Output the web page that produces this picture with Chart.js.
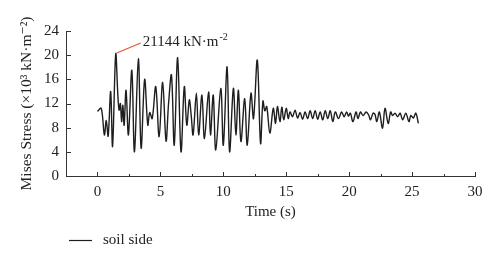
<!DOCTYPE html>
<html>
<head>
<meta charset="utf-8">
<script src="https://cdn.jsdelivr.net/npm/chart.js@4.4.0/dist/chart.umd.min.js"></script>
<style>
    html, body { margin: 0; padding: 0; background: #fff; }
    #wrap { width: 500px; height: 264px; }
</style>
</head>
<body>
<div id="wrap"><canvas id="myChart"></canvas></div>
<script>
// time (s) and Mises stress (x10^3 kN/m2)
const times = [
    0, 0.3, 0.55, 0.7, 0.85, 1.05, 1.2, 1.45, 1.62, 1.72, 1.82, 1.92, 2.02, 2.12, 2.27, 2.46,
    2.73, 2.94, 3.25, 3.47, 3.75, 4.0, 4.15, 4.35, 4.63, 4.9, 5.18, 5.45, 5.65, 5.88, 6.1, 6.37,
    6.64, 6.9, 7.1, 7.3, 7.45, 7.6, 7.86, 8.04, 8.3, 8.5, 8.83, 8.98, 9.2, 9.4, 9.8, 10.0,
    10.3, 10.5, 10.8, 11.0, 11.2, 11.4, 11.7, 11.9, 12.2, 12.4, 12.7, 12.96, 13.15, 13.3, 13.45, 13.7,
    13.97, 14.15, 14.3, 14.5, 14.65, 14.8, 15.0, 15.16, 15.3, 15.5, 15.7, 15.9, 16.1, 16.3, 16.5, 16.7,
    16.9, 17.1, 17.3, 17.5, 17.7, 17.9, 18.1, 18.3, 18.5, 18.7, 18.9, 19.15, 19.4, 19.6, 19.8, 19.95,
    20.1, 20.3, 20.55, 20.7, 20.9, 21.1, 21.35, 21.55, 21.7, 21.9, 22.05, 22.2, 22.4, 22.65, 22.85, 23.1,
    23.3, 23.45, 23.65, 23.85, 24.05, 24.25, 24.5, 24.75, 24.9, 25.1, 25.3, 25.5
];
const soilSide = [
    10.7, 11.2, 6.8, 9.2, 6.6, 14.0, 4.9, 20.2, 13.4, 10.9, 12.0, 9.0, 11.7, 8.4, 14.2, 6.8,
    17.5, 4.0, 19.4, 4.6, 16.0, 8.4, 10.5, 9.5, 14.8, 6.5, 15.5, 5.8, 12.0, 16.7, 5.1, 19.6,
    4.0, 14.8, 8.4, 12.6, 10.0, 6.8, 13.7, 6.8, 13.4, 6.2, 13.9, 6.8, 13.4, 4.3, 14.5, 5.1,
    18.1, 4.0, 14.5, 6.8, 14.2, 5.7, 12.8, 5.1, 13.7, 9.5, 19.2, 5.4, 12.4, 10.8, 11.5, 7.1,
    11.2, 8.7, 11.5, 9.0, 11.4, 9.3, 11.2, 9.5, 10.6, 9.8, 10.9, 9.6, 10.5, 9.4, 10.6, 9.5,
    10.8, 9.5, 10.8, 9.4, 10.6, 9.3, 10.8, 9.5, 10.8, 9.0, 10.6, 9.5, 10.6, 9.8, 10.6, 9.9,
    10.4, 9.0, 10.6, 9.5, 10.6, 10.0, 10.6, 10.1, 9.3, 10.4, 10.2, 9.0, 10.6, 7.9, 11.2, 8.7,
    10.6, 10.0, 10.4, 9.8, 10.4, 9.3, 10.4, 9.0, 10.0, 9.6, 10.4, 8.7
];
const yTicks = [0, 4, 8, 12, 16, 20, 24];
const peakLabel = '21144 kN\u00b7m';
const serif = "'Liberation Serif', 'DejaVu Serif', serif";
const ink = '#222';

function points() {
    let arr = [];
    for (let i = 0; i < times.length; i++) {
        arr.push({x: times[i], y: soilSide[i]});
    }
    return arr;
}

// short tick marks pointing into the plot
const innerTicks = {
    id: 'innerTicks',
    afterDraw(chart) {
        const ctx = chart.ctx;
        const xs = chart.scales.x, ys = chart.scales.y;
        ctx.save();
        ctx.strokeStyle = '#333';
        ctx.lineWidth = 1;
        ctx.beginPath();
        xs.ticks.forEach(t => {
            if (t.value <= xs.min) return;
            const px = Math.round(xs.getPixelForValue(t.value)) + 0.5;
            const len = (t.value % 5 === 0) ? 4 : 2;
            ctx.moveTo(px, xs.top);
            ctx.lineTo(px, xs.top - len);
        });
        ys.ticks.forEach(t => {
            const py = Math.round(ys.getPixelForValue(t.value)) + 0.5;
            ctx.moveTo(ys.right, py);
            ctx.lineTo(ys.right + 5, py);
        });
        ctx.stroke();
        ctx.restore();
    }
};

// leader line and value at the maximum
const peakNote = {
    id: 'peakNote',
    afterDatasetsDraw(chart) {
        const ctx = chart.ctx;
        let k = 0;
        for (let i = 1; i < soilSide.length; i++) if (soilSide[i] > soilSide[k]) k = i;
        const px = chart.scales.x.getPixelForValue(times[k]);
        const py = chart.scales.y.getPixelForValue(soilSide[k]);
        ctx.save();
        ctx.strokeStyle = '#e2582c';
        ctx.lineWidth = 1.2;
        ctx.beginPath();
        ctx.moveTo(px + 1, py - 1);
        ctx.lineTo(px + 25, py - 11);
        ctx.stroke();
        ctx.fillStyle = ink;
        ctx.font = '15px ' + serif;
        ctx.textBaseline = 'middle';
        ctx.fillText(peakLabel, px + 27, py - 12);
        const w = ctx.measureText(peakLabel).width;
        ctx.font = '10px ' + serif;
        ctx.fillText('-2', px + 28 + w, py - 17);
        ctx.restore();
    }
};

// legend under the axis title
const lineLegend = {
    id: 'lineLegend',
    afterDraw(chart) {
        const ctx = chart.ctx;
        const ds = chart.data.datasets[0];
        ctx.save();
        ctx.strokeStyle = ds.borderColor;
        ctx.lineWidth = 1.2;
        ctx.beginPath();
        ctx.moveTo(69, 240.5);
        ctx.lineTo(92, 240.5);
        ctx.stroke();
        ctx.fillStyle = ink;
        ctx.font = '15px ' + serif;
        ctx.textBaseline = 'middle';
        ctx.fillText(ds.label, 103, 240);
        ctx.restore();
    }
};

const ctx = document.getElementById('myChart').getContext('2d');
const myChart = new Chart(ctx, {
    type: 'scatter',
    data: {
        datasets: [{
            label: 'soil side',
            data: points(),
            showLine: true,
            borderColor: '#1e1e1e',
            borderWidth: 1.4,
            pointRadius: 0,
            tension: 0.35,
            fill: false
        }]
    },
    plugins: [innerTicks, peakNote, lineLegend],
    options: {
        responsive: true,
        maintainAspectRatio: false,
        animation: false,
        layout: {padding: {left: 0, right: 25, top: 31, bottom: 40}},
        plugins: {
            legend: {display: false},
            tooltip: {enabled: false}
        },
        scales: {
            x: {
                type: 'linear',
                min: -2.5,
                max: 30,
                afterFit: s => { s.height = 48; },
                grid: {display: true, drawOnChartArea: false, drawTicks: false},
                border: {color: '#333', width: 1},
                ticks: {
                    stepSize: 2.5,
                    autoSkip: false,
                    maxRotation: 0,
                    padding: 7,
                    color: ink,
                    font: {family: serif, size: 15},
                    callback: v => (v >= 0 && v % 5 === 0) ? v : ''
                },
                title: {
                    display: true,
                    text: 'Time (s)',
                    color: ink,
                    font: {family: serif, size: 15},
                    padding: {top: 0, bottom: 3}
                }
            },
            y: {
                min: 0,
                max: 24,
                afterFit: s => { s.width = 66; },
                afterBuildTicks: s => { s.ticks = yTicks.map(v => ({value: v})); },
                grid: {display: true, drawOnChartArea: false, drawTicks: false},
                border: {color: '#333', width: 1},
                ticks: {
                    padding: 7,
                    color: ink,
                    font: {family: serif, size: 15}
                },
                title: {
                    display: true,
                    text: 'Mises Stress (\u00d710\u00b3 kN\u00b7m\u207b\u00b2)',
                    color: ink,
                    font: {family: serif, size: 15.5},
                    padding: {top: 18, bottom: 0}
                }
            }
        }
    }
});
</script>
</body>
</html>
